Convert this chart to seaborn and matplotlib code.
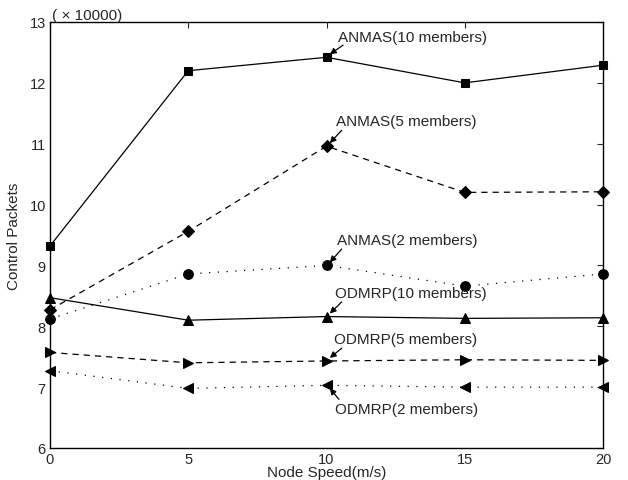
import matplotlib
matplotlib.use("Agg")
import matplotlib.pyplot as plt
import seaborn as sns
import pandas as pd

speeds = [0, 5, 10, 15, 20]
anmas_10 = [9.32, 12.20, 12.42, 12.00, 12.29]
anmas_5 = [8.27, 9.56, 10.96, 10.20, 10.21]
anmas_2 = [8.12, 8.86, 9.00, 8.66, 8.86]
odmrp_10 = [8.47, 8.10, 8.16, 8.13, 8.14]
odmrp_5 = [7.57, 7.40, 7.43, 7.45, 7.44]
odmrp_2 = [7.27, 6.98, 7.03, 7.00, 7.00]
labels = ["ANMAS(10 members)", "ANMAS(5 members)", "ANMAS(2 members)",
          "ODMRP(10 members)", "ODMRP(5 members)", "ODMRP(2 members)"]
x_ticks = [0, 5, 10, 15, 20]
y_ticks = [6, 7, 8, 9, 10, 11, 12, 13]

sns.set_style("white")
plt.rcParams['font.family'] = ['Liberation Sans', 'DejaVu Sans']

fig = plt.figure(figsize=(6.28, 4.81), dpi=100)
ax = fig.add_axes([50/628, 32/481, 553/628, 426/481])

series = [anmas_10, anmas_5, anmas_2, odmrp_10, odmrp_5, odmrp_2]
styles = ['-', (0, (5, 4)), (0, (1, 6)), '-', (0, (5, 4)), (0, (1, 6))]
markers = ['s', 'D', 'o', '^', '>', '<']
msizes = [6, 6, 7, 7, 7, 7]
for vals, ls, mk, ms, lab in zip(series, styles, markers, msizes, labels):
    df = pd.DataFrame({"speed": speeds, "val": vals})
    sns.lineplot(data=df, x="speed", y="val", ax=ax, color='black',
                 linestyle=ls, linewidth=0.9, marker=mk, markersize=ms,
                 markeredgecolor='black', markerfacecolor='black', clip_on=False)

ax.set_xlim(0, 20)
ax.set_ylim(6, 13)
ax.set_xticks(x_ticks)
ax.set_yticks(y_ticks)
ax.tick_params(direction='in', top=True, right=True, length=4, labelsize=10.5)
ax.tick_params(axis='x', pad=3)
ax.tick_params(axis='y', pad=3)
for s in ax.spines.values():
    s.set_color('black')
    s.set_linewidth(1.0)
ax.set_xlabel("Node Speed(m/s)", fontsize=11, labelpad=-1)
ax.set_ylabel("Control Packets", fontsize=11, labelpad=6)
ax.text(0.003, 1.0, "( × 10000)", transform=ax.transAxes, fontsize=11,
        ha='left', va='bottom')

# annotations: (label index, point value, text position, arrow tail)
notes = [
    (0, anmas_10[2], (10.42, 12.75), (10.6, 12.62)),
    (1, anmas_5[2], (10.34, 11.37), (10.55, 11.22)),
    (2, anmas_2[2], (10.38, 9.42), (10.55, 9.27)),
    (3, odmrp_10[2], (10.31, 8.55), (10.55, 8.40)),
    (4, odmrp_5[2], (10.27, 7.79), (10.55, 7.64)),
    (5, odmrp_2[2], (10.31, 6.64), (10.45, 6.80)),
]
for i, yv, tpos, tail in notes:
    ax.text(tpos[0], tpos[1], labels[i], fontsize=11, ha='left', va='center')
    ax.annotate("", xy=(10.12, yv + (0.05 if i != 5 else -0.05)), xytext=tail,
                arrowprops=dict(arrowstyle='-|>', color='black', lw=0.9,
                                mutation_scale=9, shrinkA=0, shrinkB=0))

fig.savefig("out.png", dpi=100)
